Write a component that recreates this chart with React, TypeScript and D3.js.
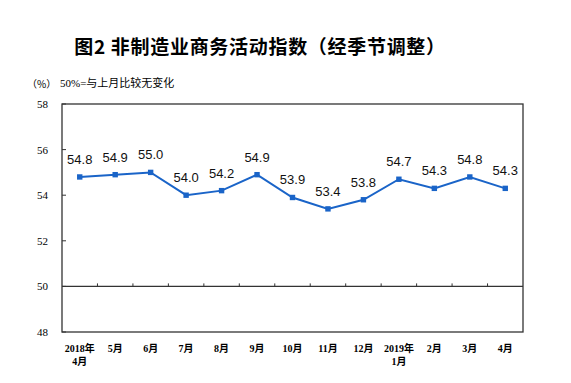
import React from "react";
import * as d3 from "d3";

const months = ["2018年\n4月", "5月", "6月", "7月", "8月", "9月", "10月", "11月", "12月", "2019年\n1月", "2月", "3月", "4月"];
const values = [54.8, 54.9, 55.0, 54.0, 54.2, 54.9, 53.9, 53.4, 53.8, 54.7, 54.3, 54.8, 54.3];
const yTicks = [48, 50, 52, 54, 56, 58];

const W = 571, H = 383;
const L = 62, R = 523, T = 104, B = 332;

export default function App() {
  const x = d3.scaleBand<number>().domain(d3.range(months.length)).range([L, R]).padding(0);
  const y = d3.scaleLinear().domain([48, 58]).range([B, T]);
  const cx = (i: number) => (x(i) as number) + x.bandwidth() / 2;
  const line = d3.line<number>().x((_, i) => cx(i)).y((d) => y(d));
  const blue = "#1a64c8";
  const serif = "'Liberation Serif', 'Times New Roman', serif";
  const cjk = "'Liberation Serif', 'Noto Sans CJK SC', serif";
  return (
    <svg width={W} height={H} style={{ position: "absolute", left: 0, top: 0, background: "#fff" }}>
      <text x={260} y={54} textAnchor="middle" fontFamily="'Noto Sans CJK SC', sans-serif" fontWeight="bold" fontSize={19} letterSpacing={0.7} fill="#000">
        图2 非制造业商务活动指数（经季节调整）
      </text>
      <text x={27} y={88} fontFamily="'Noto Sans CJK SC', sans-serif" fontSize={10} fill="#000">（%）</text>
      <text x={60} y={87} fontFamily={cjk} fontSize={11} fill="#000">50%=与上月比较无变化</text>
      <rect x={L} y={T} width={R - L} height={B - T} fill="none" stroke="#333" strokeWidth={1.3} />
      <line x1={L} x2={R} y1={y(50)} y2={y(50)} stroke="#333" strokeWidth={1.3} />
      {yTicks.map((t) => (
        <g key={t}>
          <line x1={L} x2={L + 4} y1={y(t)} y2={y(t)} stroke="#333" />
          <text x={48} y={y(t) + 4} textAnchor="end" fontFamily={serif} fontSize={11} fill="#000">{t}</text>
        </g>
      ))}
      {months.slice(1).map((_, i) => (
        <line key={i} x1={x(i + 1) as number} x2={x(i + 1) as number} y1={y(50)} y2={y(50) - 3} stroke="#333" />
      ))}
      {months.map((m, i) => (
        <text key={m} x={cx(i)} y={352} textAnchor="middle" fontFamily={cjk} fontWeight="bold" fontSize={10} fill="#000">
          {m.split("\n").map((s, j) => (
            <tspan key={j} x={cx(i)} dy={j === 0 ? 0 : 13}>{s}</tspan>
          ))}
        </text>
      ))}
      <path d={line(values) || ""} fill="none" stroke={blue} strokeWidth={2} />
      {values.map((v, i) => (
        <rect key={i} x={cx(i) - 2.7} y={y(v) - 2.7} width={5.4} height={5.4} fill={blue} />
      ))}
      {values.map((v, i) => (
        <text key={"l" + i} x={cx(i)} y={y(v) - 13} textAnchor="middle" fontFamily="'Liberation Sans', Arial, sans-serif" fontSize={13} fill="#111">
          {v.toFixed(1)}
        </text>
      ))}
    </svg>
  );
}
